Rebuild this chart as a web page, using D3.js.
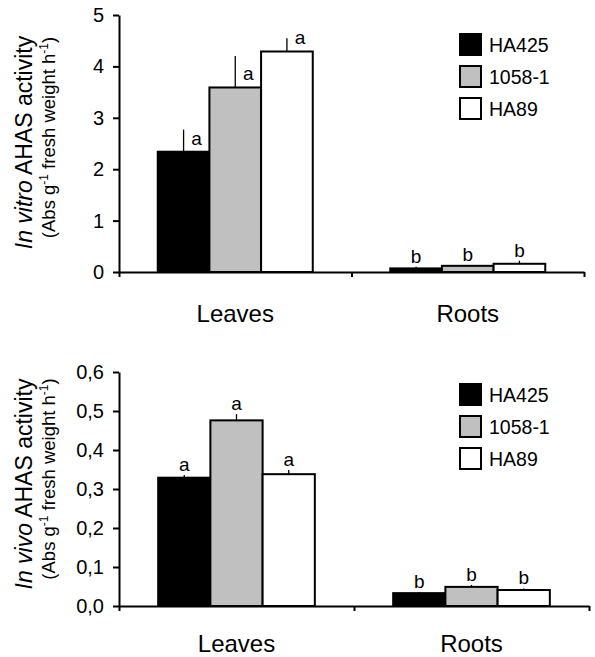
<!DOCTYPE html>
<html>
<head>
<meta charset="utf-8">
<script src="https://cdn.jsdelivr.net/npm/d3@7"></script>
<style>
  body { margin: 0; background: #fff; }
  svg { display: block; font-family: "Liberation Sans", Arial, sans-serif; }
</style>
</head>
<body>
<div id="chart"></div>
<script>
// categories and cultivars
const tissues = ["Leaves", "Roots"]
const lines = ["HA425", "1058-1", "HA89"]
const fills = ["#000000", "#c0c0c0", "#ffffff"]

// in vitro AHAS activity (rows = tissues, cols = lines)
const vitroMeans = [[2.34, 3.59, 4.29], [0.07, 0.12, 0.16]]
const vitroErrors = [[0.43, 0.61, 0.26], [0.03, 0.01, 0.06]]
const vitroLetters = [["a", "a", "a"], ["b", "b", "b"]]
const vitroTicks = [0, 1, 2, 3, 4, 5]

// in vivo AHAS activity
const vivoMeans = [[0.329, 0.476, 0.338], [0.033, 0.049, 0.041]]
const vivoErrors = [[0.007, 0.016, 0.011], [0.003, 0.005, 0.004]]
const vivoLetters = [["a", "a", "a"], ["b", "b", "b"]]
const vivoTicks = [0, 0.1, 0.2, 0.3, 0.4, 0.5, 0.6]

const svg = d3.select("#chart").append("svg")
  .attr("width", 595)
  .attr("height", 657)

function drawPanel(opts) {
  const { top, bottom, left, right, means, errors, letters, ticks, fmt, title, legendTop } = opts
  const g = svg.append("g")

  const y = d3.scaleLinear().domain([0, d3.max(ticks)]).range([bottom, top])
  const x = d3.scaleBand().domain(tissues).range([left, right]).padding(0)
  const sub = d3.scaleBand().domain(lines).range([0, x.bandwidth()])
    .paddingInner(0).paddingOuter(0.75)

  // bars
  tissues.forEach((t, ti) => {
    const grp = g.append("g").attr("transform", `translate(${x(t)},0)`)
    const rows = lines.map((l, li) => ({ line: l, v: means[ti][li], e: errors[ti][li], lab: letters[ti][li], fill: fills[li] }))

    // error bars (upper only)
    grp.selectAll("line.err").data(rows).enter().append("line")
      .attr("x1", d => sub(d.line) + sub.bandwidth() / 2)
      .attr("x2", d => sub(d.line) + sub.bandwidth() / 2)
      .attr("y1", d => y(d.v))
      .attr("y2", d => y(d.v + d.e))
      .attr("stroke", "#000")
      .attr("stroke-width", 1.3)

    grp.selectAll("rect").data(rows).enter().append("rect")
      .attr("x", d => sub(d.line))
      .attr("y", d => y(d.v))
      .attr("width", sub.bandwidth())
      .attr("height", d => y(0) - y(d.v))
      .attr("fill", d => d.fill)
      .attr("stroke", "#000")
      .attr("stroke-width", 2)

    // letters: beside a tall error bar, otherwise on top of it
    const maxV = d3.max(ticks)
    grp.selectAll("text.lab").data(rows).enter().append("text")
      .attr("x", d => sub(d.line) + sub.bandwidth() / 2 + (d.e > maxV * 0.04 ? 13 : 0))
      .attr("y", d => d.e > maxV * 0.04 ? y(d.v) - 7 : y(d.v + d.e) - 4)
      .attr("text-anchor", "middle")
      .attr("font-size", 19)
      .text(d => d.lab)
  })

  // y axis
  const yAxis = g.append("g")
    .attr("transform", `translate(${left},0)`)
    .call(d3.axisLeft(y).tickValues(ticks).tickFormat(fmt).tickSize(6).tickSizeOuter(0).tickPadding(9))
  yAxis.select(".domain").attr("stroke-width", 2)
  yAxis.selectAll(".tick line").attr("stroke-width", 2)
  yAxis.selectAll("text").attr("font-size", 20).attr("fill", "#000")
    .attr("font-family", "Liberation Sans, Arial, sans-serif")

  // x axis with ticks at group boundaries
  const edges = d3.scaleLinear().domain([0, tissues.length]).range([left, right])
  const xAxis = g.append("g")
    .attr("transform", `translate(0,${bottom})`)
    .call(d3.axisBottom(edges).tickValues([0, 1, 2]).tickFormat("").tickSize(5).tickSizeOuter(0))
  xAxis.select(".domain").attr("stroke-width", 2)
  xAxis.selectAll(".tick line").attr("stroke-width", 2)

  const xLab = g.append("g")
    .attr("transform", `translate(0,${bottom + opts.labelGap})`)
    .call(d3.axisBottom(x).tickSize(0).tickPadding(0))
  xLab.select(".domain").remove()
  xLab.selectAll("text").attr("font-size", 24).attr("fill", "#000").attr("dy", 0)
    .attr("font-family", "Liberation Sans, Arial, sans-serif")

  // y title
  const cy = (top + bottom) / 2 + opts.titleShift
  const t1 = g.append("text")
    .attr("transform", `translate(32,${cy}) rotate(-90)`)
    .attr("text-anchor", "middle")
    .attr("font-size", 23)
  t1.append("tspan").attr("font-style", "italic").text(title)
  t1.append("tspan").text(" AHAS activity")

  const t2 = g.append("text")
    .attr("transform", `translate(55,${cy - 5}) rotate(-90)`)
    .attr("text-anchor", "middle")
    .attr("font-size", 18.5)
  t2.append("tspan").text("(Abs g")
  t2.append("tspan").attr("font-size", 12).attr("dy", -7).text("-1")
  t2.append("tspan").attr("dy", 7).text(" fresh weight h")
  t2.append("tspan").attr("font-size", 12).attr("dy", -7).text("-1")
  t2.append("tspan").attr("dy", 7).text(")")

  // legend
  const leg = g.append("g").attr("transform", `translate(460,${legendTop})`)
  const items = leg.selectAll("g").data(lines).enter().append("g")
    .attr("transform", (d, i) => `translate(0,${i * 32})`)
  items.append("rect")
    .attr("width", 21).attr("height", 21)
    .attr("fill", (d, i) => fills[i])
    .attr("stroke", "#000").attr("stroke-width", 2)
  items.append("text")
    .attr("x", 29).attr("y", 18)
    .attr("font-size", 19.5)
    .text(d => d)
}

const commaFmt = d => d3.format(".1f")(d).replace(".", ",")

drawPanel({
  top: 15, bottom: 272, left: 119, right: 584,
  means: vitroMeans, errors: vitroErrors, letters: vitroLetters,
  ticks: vitroTicks, fmt: d3.format("d"), title: "In vitro",
  legendTop: 34, titleShift: -1, labelGap: 50
})

drawPanel({
  top: 372, bottom: 606, left: 119, right: 589,
  means: vivoMeans, errors: vivoErrors, letters: vivoLetters,
  ticks: vivoTicks, fmt: commaFmt, title: "In vivo",
  legendTop: 384, titleShift: -5, labelGap: 46
})
</script>
</body>
</html>
